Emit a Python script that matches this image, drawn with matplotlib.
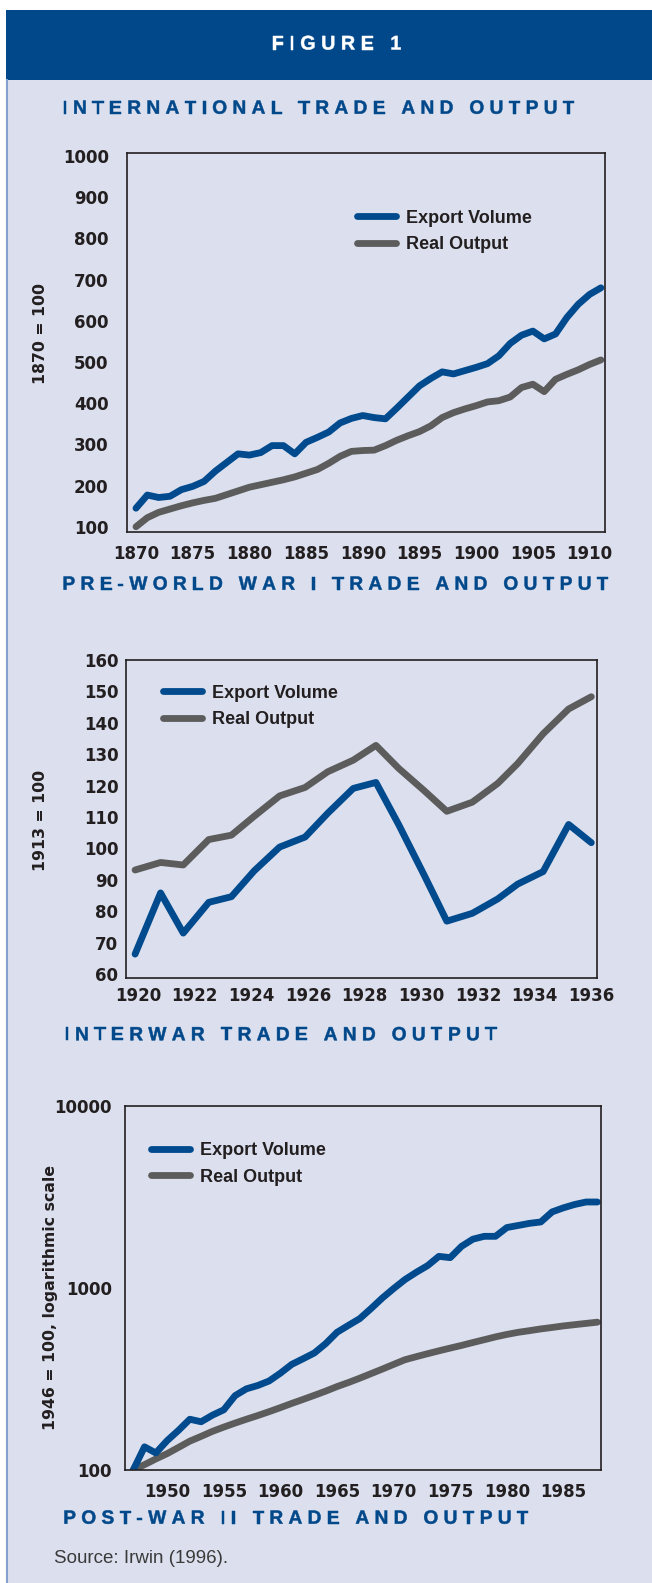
import matplotlib
matplotlib.use("Agg")
import matplotlib.pyplot as plt
import matplotlib.patheffects as pe
from matplotlib.patches import Rectangle
from matplotlib.lines import Line2D
from matplotlib.ticker import NullLocator
from matplotlib.font_manager import FontProperties, findfont, get_font

# values
years_pre = list(range(1870, 1912))
export_pre = [145, 177, 171, 174, 190, 198, 210, 235, 256, 277,
              274, 280, 297, 297, 277, 305, 317, 330, 352, 363,
              370, 365, 362, 388, 415, 442, 460, 476, 471, 479,
              487, 496, 515, 545, 565, 575, 556, 568, 608, 640,
              664, 680]
output_pre = [100, 122, 135, 143, 151, 158, 164, 169, 178, 187,
              196, 202, 208, 214, 221, 230, 239, 254, 271, 283,
              285, 286, 297, 310, 321, 331, 345, 365, 377, 386,
              394, 403, 406, 415, 438, 446, 428, 458, 470, 481,
              494, 505]

years_inter = [1919.9, 1920.8, 1921.6, 1922.5, 1923.3, 1924.1, 1925.0,
               1925.9, 1926.7, 1927.6, 1928.4, 1929.2, 1930.1, 1930.9,
               1931.8, 1932.7, 1933.4, 1934.3, 1935.2, 1936.0]
export_inter = [66.3, 85.8, 73.0, 82.8, 84.6, 92.8, 100.4, 103.6, 111.2,
                119.1, 121.0, 107.6, 91.5, 76.8, 79.3, 83.9, 88.6, 92.6,
                107.6, 101.8]
output_inter = [93.1, 95.5, 94.7, 102.8, 104.2, 110.2, 116.7, 119.4, 124.4,
                128.1, 132.8, 125.5, 118.4, 111.8, 114.7, 120.7, 127.0,
                136.5, 144.4, 148.3]

years_post = list(range(1947, 1989))
export_post = [100, 134, 124, 145, 165, 190, 184, 200, 214, 256,
               279, 291, 308, 340, 380, 408, 439, 494, 570, 622,
               677, 769, 879, 991, 1110, 1217, 1324, 1489, 1465, 1690,
               1850, 1918, 1918, 2143, 2200, 2260, 2300, 2612, 2750, 2870,
               2960, 2960]
output_post = [100, 107, 115, 123, 133, 144, 153, 163, 172, 181,
               190, 199, 209, 220, 232, 244, 257, 271, 287, 302,
               319, 338, 358, 380, 403, 419, 435, 451, 467, 483,
               501, 519, 538, 555, 570, 582, 595, 606, 618, 628,
               638, 648]

xticks_pre = list(range(1870, 1911, 5))
yticks_pre = list(range(100, 1001, 100))
xticks_inter = list(range(1920, 1937, 2))
yticks_inter = list(range(60, 161, 10))
xticks_post = list(range(1950, 1986, 5))
yticks_post = [100, 1000, 10000]

titles = ["INTERNATIONAL TRADE AND OUTPUT",
          "PRE-WORLD WAR I TRADE AND OUTPUT",
          "INTERWAR TRADE AND OUTPUT",
          "POST-WAR II TRADE AND OUTPUT"]

NAVY = "#01488a"
BLUE = "#004a8d"
GRAY = "#5c5c5c"
BG = "#dce0ee"
INK = "#231f20"
LW = 4.9
TITLE_FONT = ["Liberation Sans", "DejaVu Sans"]

W, H = 652, 1583
plt.rcParams["font.family"] = ["DejaVu Sans"]
plt.rcParams["font.weight"] = "bold"

fig = plt.figure(figsize=(W / 100, H / 100), dpi=100)
fig.patch.set_facecolor("white")

# page background, header band, left rule
fig.add_artist(Rectangle((6 / W, 0), 1 - 6 / W, 1 - 80 / H, transform=fig.transFigure,
                         facecolor=BG, edgecolor="none", zorder=-10))
fig.add_artist(Rectangle((6 / W, 1 - 80 / H), 1 - 6 / W, 70 / H, transform=fig.transFigure,
                         facecolor=NAVY, edgecolor="none", zorder=-10))
fig.add_artist(Line2D([7 / W, 7 / W], [0, 1 - 80 / H], transform=fig.transFigure,
                      color="#84a0cc", lw=1.5, zorder=-9))


def spaced(text, x, base, size, color, ha="left"):
    # letter-spaced caps: one space between letters, three between words,
    # each letter placed on its own using the font's advance widths
    s = "   ".join(" ".join(word) for word in text.split(" "))
    prop = FontProperties(family=TITLE_FONT, weight="bold", size=size)
    font = get_font(findfont(prop))
    font.set_size(size, fig.dpi)
    adv = [font.load_char(ord(c)).linearHoriAdvance / 65536 for c in s]
    if ha == "center":
        x -= sum(adv) / 2
    for c, a in zip(s, adv):
        if c != " ":
            fig.text(x / W, 1 - base / H, c, fontproperties=prop, color=color,
                     ha="left", va="baseline",
                     path_effects=[pe.PathPatchEffect(facecolor=color, edgecolor=color,
                                                      linewidth=0.35)])
        x += a


spaced("FIGURE 1", 336.5, 49.5, 14.2, "white", ha="center")
spaced(titles[0], 62.4, 113.7, 13.8, NAVY)
spaced(titles[1], 62.4, 589.7, 13.8, NAVY)
spaced(titles[2], 64.4, 1040.3, 13.8, NAVY)
spaced(titles[3], 63.2, 1523.7, 13.8, NAVY)


def chart(l, t, r, b, years, exp, out, xlim, ylim, xticks, yticks,
          xpad, ypad, ylabel, ylab_xy, leg_xy, log=False):
    ax = fig.add_axes([l / W, 1 - b / H, (r - l) / W, (b - t) / H])
    ax.set_facecolor("none")
    ax.plot(years, out, color=GRAY, lw=LW, solid_capstyle="round",
            solid_joinstyle="round", label="Real Output")
    ax.plot(years, exp, color=BLUE, lw=LW, solid_capstyle="round",
            solid_joinstyle="round", label="Export Volume")
    if log:
        ax.set_yscale("log")
    ax.set_xlim(*xlim)
    ax.set_ylim(*ylim)
    ax.set_xticks(xticks)
    ax.set_yticks(yticks)
    ax.set_yticklabels([str(v) for v in yticks])
    ax.yaxis.set_minor_locator(NullLocator())
    ax.xaxis.set_minor_locator(NullLocator())
    ax.tick_params(axis="x", length=0, labelsize=12, labelcolor=INK, pad=xpad)
    ax.tick_params(axis="y", length=0, labelsize=12, labelcolor=INK, pad=ypad)
    for s in ax.spines.values():
        s.set_linewidth(1.2)
        s.set_color(INK)
    fig.text(ylab_xy[0] / W, 1 - ylab_xy[1] / H, ylabel, rotation=90, ha="center",
             va="center", fontsize=11.3, fontweight="bold", color=INK)
    h, lab = ax.get_legend_handles_labels()
    leg = ax.legend(h[::-1], lab[::-1], loc="upper left",
                    bbox_to_anchor=(leg_xy[0] / W, 1 - leg_xy[1] / H),
                    bbox_transform=fig.transFigure, frameon=False, borderpad=0,
                    borderaxespad=0, handlelength=2.16, handletextpad=0.55,
                    labelspacing=0.52,
                    prop=dict(family=TITLE_FONT, weight="bold", size=13))
    for txt in leg.get_texts():
        txt.set_color(INK)
    return ax


chart(126.8, 152.7, 605, 531.7, years_pre, export_pre, output_pre,
      (1869.19, 1911.36), (88, 1008), xticks_pre, yticks_pre, 9.6, 13,
      "1870 = 100", (40.3, 334), (357, 209.7))
chart(126, 660, 596.7, 978.3, years_inter, export_inter, output_inter,
      (1919.58, 1936.19), (58.6, 160), xticks_inter, yticks_inter, 6.3, 5.4,
      "1913 = 100", (40.3, 820), (163, 684.7))
chart(124.7, 1105.7, 600.8, 1470, years_post, export_post, output_post,
      (1946.25, 1988.3), (100, 10000), xticks_post, yticks_post, 9.4, 9.1,
      "1946 = 100, logarithmic scale", (50.7, 1298), (150.6, 1142.2), log=True)

fig.text(54 / W, 1 - 1563 / H, "Source: Irwin (1996).", fontsize=13.5, fontweight="normal",
         color="#3a3a3a", ha="left", va="baseline", family=TITLE_FONT)

fig.savefig("out.png", dpi=100)
